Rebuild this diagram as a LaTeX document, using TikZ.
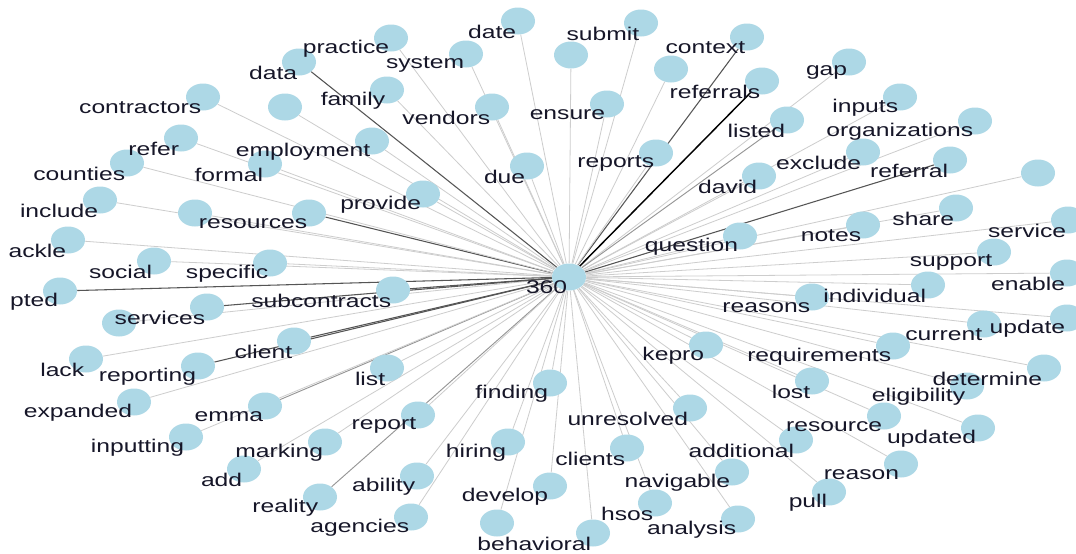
\documentclass[tikz,border=0pt]{standalone}
\usepackage{fontspec}
\setmainfont{Liberation Sans}
\usepackage{xcolor}
\usetikzlibrary{shapes.geometric,backgrounds}

\definecolor{dotblue}{RGB}{173,216,230}
\definecolor{wordink}{RGB}{22,22,40}
\definecolor{litegray}{RGB}{205,205,205}
\definecolor{midgray}{RGB}{150,150,150}
\definecolor{darkgray}{RGB}{85,85,85}

\tikzset{
  dot/.style={ellipse, fill=dotblue, inner sep=0pt, minimum width=25.5pt, minimum height=20.25pt},
  word/.style={anchor=east, inner sep=0pt, xscale=1.34, text=wordink, font=\fontsize{13.8}{14}\selectfont},
  thinlink/.style={draw=litegray, line width=0.6pt},
  midlink/.style={draw=midgray, line width=0.7pt},
  darklink/.style={draw=darkgray, line width=0.8pt},
  heavylink/.style={draw=black, line width=1.1pt}
}

% name / x / y / text / link style
\def\wordlist{practice/391/38/practice/thinlink, data/299/62/data/darklink,
  system/466/54/system/thinlink, date/518/21/date/thinlink,
  submit/641/23/submit/thinlink, context/747/37/context/darklink,
  referrals/762/81/referrals/heavylink, gap/849/62/gap/thinlink,
  inputs/900/97/inputs/thinlink, listed/787/120/listed/midlink,
  organizations/975/121/organizations/thinlink, exclude/863/152/exclude/thinlink,
  referral/950/160/referral/darklink, david/759/176/david/thinlink,
  question/740/236/question/thinlink, notes/863/225/notes/thinlink,
  share/956/208/share/thinlink, service/1068/220/service/thinlink,
  support/994/252/support/thinlink, enable/1067/273/enable/thinlink,
  individual/928/285/individual/thinlink, reasons/812/297/reasons/thinlink,
  update/1067/318/update/thinlink, current/984/324/current/thinlink,
  requirements/893/346/requirements/thinlink, kepro/706/345/kepro/thinlink,
  lost/812/381/lost/thinlink, determine/1044/368/determine/thinlink,
  eligibility/967/386/eligibility/thinlink, resource/884/416/resource/thinlink,
  updated/978/428/updated/thinlink, additional/796/440/additional/thinlink,
  reason/901/464/reason/thinlink, pull/829/492/pull/thinlink,
  analysis/738/519/analysis/thinlink, hsos/655/503/hsos/thinlink,
  navigable/732/472/navigable/thinlink, clients/627/448/clients/thinlink,
  unresolved/690/408/unresolved/thinlink, finding/550/383/finding/thinlink,
  develop/550/486/develop/thinlink, behavioral/593/533/behavioral/thinlink,
  hiring/508/442/hiring/thinlink, ability/417/476/ability/thinlink,
  agencies/411/517/agencies/thinlink, reality/320/497/reality/midlink,
  add/244/469/add/thinlink, marking/325/442/marking/thinlink,
  report/418/415/report/thinlink, emma/265/406/emma/midlink,
  list/387/368/list/thinlink, inputting/186/437/inputting/thinlink,
  expanded/134/402/expanded/thinlink, reporting/198/366/reporting/darklink,
  lack/86/359/lack/thinlink, client/294/341/client/darklink,
  services/207/307/services/darklink, subcontracts/393/290/subcontracts/darklink,
  pted/60/291/pted/darklink, specific/270/263/specific/thinlink,
  social/154/261/social/thinlink, ackle/68/240/ackle/thinlink,
  include/100/200/include/thinlink, resources/309/213/resources/darklink,
  provide/423/194/provide/thinlink, counties/127/163/counties/thinlink,
  formal/265/164/formal/thinlink, refer/181/138/refer/thinlink,
  employment/372/141/employment/thinlink, contractors/203/97/contractors/thinlink,
  family/387/90/family/thinlink, vendors/492/107/vendors/thinlink,
  due/527/166/due/thinlink, ensure/607/104/ensure/thinlink,
  reports/656/153/reports/thinlink}

\begin{document}
\begin{tikzpicture}[x=0.75pt,y=0.75pt,yscale=-1,xscale=1]
\path[use as bounding box] (0,0) rectangle (1076,554);
\clip (0,0) rectangle (1076,554);

% centre term
\node[dot] (hub) at (569,277) {};

% surrounding terms
\foreach \n/\x/\y/\t/\e in \wordlist
  \node[dot] (w-\n) at (\x,\y) {};

% terms without a printed word
\foreach \i/\x/\y in {1/285/107, 2/571/55, 3/671/69, 4/1038/173, 5/195/213, 6/119/323, 7/497/523}
  \node[dot] (u-\i) at (\x,\y) {};

% words
\node[word] (l-hub) at (567.5,287.5) {360};
\foreach \n/\x/\y/\t/\e in \wordlist
  \node[word] (l-\n) at (\x-1.5,\y+10.5) {\t};

% spokes
\begin{scope}[on background layer]
  \fill[white] (0,0) rectangle (1076,554);
  \foreach \i in {1,...,7}
    \draw[thinlink] (hub) -- (u-\i);
  \foreach \n/\x/\y/\t/\e in \wordlist
    \draw[\e] (hub) -- (w-\n);
\end{scope}

\end{tikzpicture}
\end{document}
